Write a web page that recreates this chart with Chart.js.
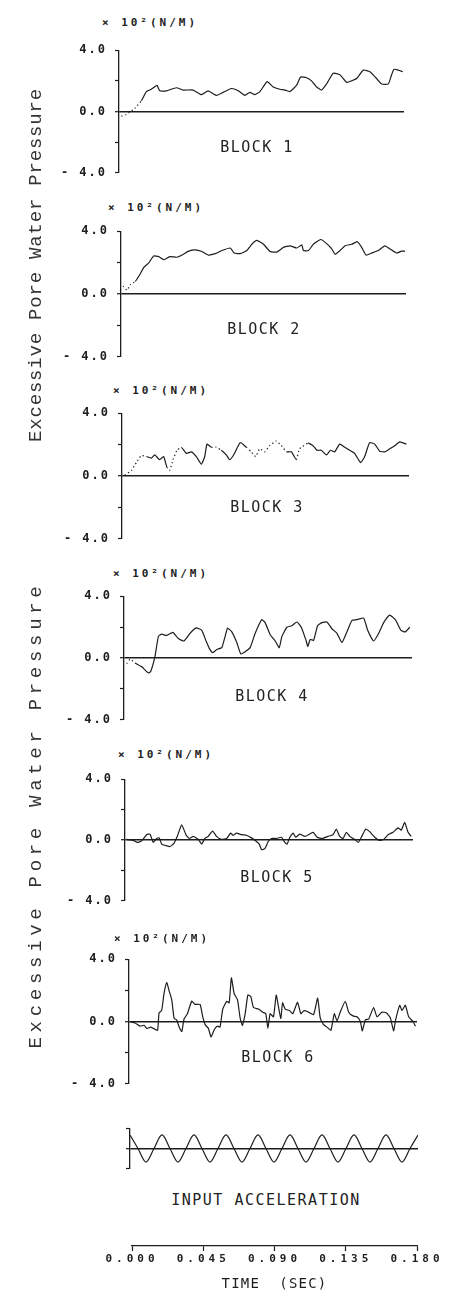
<!DOCTYPE html>
<html><head><meta charset="utf-8">
<script src="https://cdn.jsdelivr.net/npm/chart.js@4.4.0/dist/chart.umd.min.js"></script>
<style>
html,body{margin:0;padding:0;background:#fff;overflow:hidden;}
#page{position:relative;width:457px;height:1304px;overflow:hidden;background:#fff;}
.box{position:absolute;left:0;width:457px;}
.box canvas{display:block;}
.txt{position:absolute;white-space:pre;color:#222;font-family:"DejaVu Sans Mono",monospace;transform:translate(-50%,-50%);line-height:1;}
.unit{font-size:11px;font-weight:bold;letter-spacing:3px;}
.blk{font-size:15px;letter-spacing:1.5px;}
.ylab{font-family:"Liberation Mono","DejaVu Sans Mono",monospace;font-size:19px;color:#333;}
</style></head><body><div id="page"></div>
<script>
// ---------- data ----------
const block1Time = [0.0015,0.0046,0.0099,0.0141,0.0173,0.0204,0.0240,0.0257,0.0299,0.0363,0.0405,0.0468,0.0521,0.0563,0.0616,0.0658,0.0710,0.0753,0.0795,0.0826,0.0858,0.0890,0.0936,0.0974,0.1016,0.1048,0.1079,0.1121,0.1147,0.1185,0.1216,0.1248,0.1280,0.1311,0.1353,0.1395,0.1438,0.1469,0.1501,0.1543,0.1585,0.1623,0.1659,0.1701,0.1722,0.1737,0.1764,0.1792];
const block1Value = [-0.3,-0.2,0.2,0.7,1.3,1.45,1.7,1.35,1.35,1.55,1.4,1.4,1.1,1.35,1.05,1.25,1.5,1.35,1.05,1.25,1.1,1.3,1.95,1.6,1.45,1.4,1.3,1.7,2.25,2.2,2.0,1.6,1.4,1.8,2.5,2.4,1.9,2.0,2.15,2.7,2.6,2.2,1.8,1.8,2.4,2.75,2.7,2.6];

const block2Time = [0.0013,0.0038,0.0059,0.0090,0.0122,0.0143,0.0175,0.0206,0.0238,0.0273,0.0307,0.0353,0.0395,0.0427,0.0469,0.0511,0.0553,0.0595,0.0637,0.0690,0.0715,0.0753,0.0795,0.0826,0.0858,0.0900,0.0942,0.0984,0.1026,0.1068,0.1110,0.1142,0.1152,0.1184,0.1215,0.1262,0.1299,0.1331,0.1352,0.1384,0.1415,0.1457,0.1493,0.1520,0.1548,0.1583,0.1625,0.1667,0.1699,0.1741,0.1772,0.1794];
const block2Value = [0.5,0.24,0.6,0.8,1.29,1.68,1.98,2.42,2.38,2.18,2.38,2.34,2.53,2.73,2.81,2.71,2.48,2.57,2.77,2.93,2.61,2.57,2.77,3.17,3.41,3.17,2.71,2.67,2.97,3.07,2.93,3.13,2.77,2.77,3.17,3.47,3.21,2.87,2.53,2.77,3.07,3.17,3.33,2.97,2.48,2.61,2.77,3.07,2.87,2.61,2.73,2.73];

const block3Time = [0.0017,0.0059,0.0090,0.0121,0.0153,0.0184,0.0205,0.0236,0.0261,0.0282,0.0299,0.0320,0.0345,0.0372,0.0404,0.0435,0.0466,0.0498,0.0519,0.0533,0.0560,0.0592,0.0623,0.0654,0.0675,0.0700,0.0742,0.0780,0.0811,0.0838,0.0863,0.0895,0.0926,0.0968,0.0999,0.1031,0.1062,0.1093,0.1114,0.1167,0.1198,0.1223,0.1250,0.1282,0.1307,0.1334,0.1365,0.1397,0.1428,0.1459,0.1497,0.1522,0.1553,0.1585,0.1616,0.1648,0.1679,0.1710,0.1742,0.1783];
const block3Value = [0.06,0.35,0.85,1.3,1.24,1.14,1.34,1.04,1.24,0.55,0.35,1.04,1.64,1.83,1.44,1.54,1.24,0.75,1.24,2.03,1.83,1.83,1.64,1.34,1.04,1.34,2.13,1.83,1.54,1.24,1.73,1.54,1.93,2.23,1.93,1.54,1.54,1.04,1.73,2.09,1.93,1.64,1.64,1.34,1.64,1.54,2.03,1.83,1.64,1.44,0.85,1.24,2.13,2.03,1.58,1.54,1.73,1.93,2.17,2.03];

const block4Time = [0.0017,0.0038,0.0069,0.0111,0.0152,0.0167,0.0194,0.0215,0.0236,0.0267,0.0305,0.0340,0.0375,0.0413,0.0451,0.0486,0.0513,0.0534,0.0555,0.0580,0.0611,0.0632,0.0647,0.0674,0.0705,0.0730,0.0757,0.0788,0.0820,0.0861,0.0882,0.0914,0.0945,0.0970,0.0987,0.1018,0.1049,0.1081,0.1108,0.1139,0.1149,0.1164,0.1185,0.1210,0.1237,0.1268,0.1300,0.1331,0.1362,0.1393,0.1425,0.1456,0.1498,0.1523,0.1560,0.1592,0.1623,0.1660,0.1696,0.1731,0.1758,0.1786];
const block4Value = [-0.37,-0.08,-0.32,-0.57,-0.97,-0.87,0.12,1.4,1.54,1.46,1.66,1.26,1.1,1.6,1.95,1.79,1.1,0.61,0.35,0.55,0.67,1.4,1.93,1.69,1.0,0.26,0.41,0.67,1.6,2.48,2.29,1.5,1.1,0.67,1.4,1.99,2.09,2.33,1.99,1.1,0.75,1.2,1.14,2.09,2.29,2.33,1.89,1.6,1.0,1.69,2.44,2.48,2.58,1.79,1.1,1.6,2.29,2.78,2.48,1.79,1.69,1.99];

const block5Time = [0.0010,0.0052,0.0077,0.0104,0.0135,0.0156,0.0177,0.0198,0.0214,0.0229,0.0256,0.0281,0.0306,0.0327,0.0354,0.0381,0.0402,0.0427,0.0458,0.0479,0.0499,0.0520,0.0547,0.0572,0.0603,0.0635,0.0660,0.0676,0.0697,0.0728,0.0759,0.0791,0.0818,0.0839,0.0853,0.0874,0.0895,0.0916,0.0947,0.0978,0.0999,0.1013,0.1030,0.1051,0.1067,0.1092,0.1124,0.1155,0.1176,0.1201,0.1234,0.1269,0.1300,0.1321,0.1342,0.1363,0.1384,0.1405,0.1436,0.1457,0.1477,0.1504,0.1529,0.1561,0.1588,0.1617,0.1644,0.1675,0.1706,0.1727,0.1748,0.1769,0.1789];
const block5Value = [0.04,-0.02,-0.16,-0.06,0.35,0.39,-0.16,0.1,0.14,-0.27,-0.37,-0.43,-0.22,0.24,1.0,0.35,0.1,0.24,0.04,-0.27,0.1,0.24,0.59,0.24,0.04,0.1,0.45,0.31,0.45,0.35,0.31,0.14,-0.06,-0.27,-0.63,-0.57,-0.1,0.1,0.1,0.18,-0.16,-0.27,0.18,0.45,0.18,0.39,0.24,0.39,0.51,0.18,0.1,0.24,0.35,0.71,0.24,0.1,0.51,0.24,0.04,-0.16,0.18,0.71,0.55,0.18,-0.02,0.04,0.35,0.51,0.8,0.65,1.16,0.51,0.24];

const block6Time = [0.0006,0.0038,0.0069,0.0094,0.0111,0.0136,0.0163,0.0179,0.0188,0.0204,0.0219,0.0236,0.0250,0.0267,0.0282,0.0298,0.0315,0.0330,0.0344,0.0365,0.0392,0.0413,0.0444,0.0461,0.0476,0.0496,0.0513,0.0534,0.0553,0.0569,0.0586,0.0611,0.0626,0.0640,0.0657,0.0678,0.0695,0.0709,0.0726,0.0743,0.0761,0.0778,0.0809,0.0836,0.0855,0.0868,0.0882,0.0903,0.0920,0.0935,0.0949,0.0960,0.0976,0.1003,0.1024,0.1053,0.1074,0.1095,0.1122,0.1154,0.1179,0.1195,0.1216,0.1237,0.1262,0.1283,0.1300,0.1320,0.1352,0.1373,0.1400,0.1425,0.1446,0.1458,0.1477,0.1498,0.1529,0.1550,0.1581,0.1608,0.1633,0.1654,0.1665,0.1692,0.1706,0.1727,0.1748,0.1775,0.1790];
const block6Value = [0,-0.1,-0.3,-0.24,-0.44,-0.36,-0.5,-0.56,0.56,0.7,1.8,2.5,2.0,1.4,0.2,0.1,-0.4,-0.64,0.16,0.5,1.3,1.1,1.1,0.3,-0.2,-0.44,-1.0,-0.5,-0.3,-0.36,0.8,1.3,1.2,2.8,1.8,1.4,0.2,-0.24,0.5,1.7,1.6,0.9,0.8,0.6,0.5,-0.44,0.5,0.3,1.7,0.9,0.2,1.2,0.8,0.7,0.5,1.24,0.5,0.7,0.6,0.44,1.5,0.24,-0.2,-0.36,-0.56,0.5,0.04,0.6,1.3,0.6,0.36,0.3,0,-0.6,0.1,0.16,0.9,0.3,0.6,0.56,0.24,-0.6,0.04,1.04,0.7,1.04,0.3,0,-0.3];

const accelTime = [0,0.005,0.01,0.015,0.02,0.025,0.03,0.035,0.04,0.045,0.05,0.055,0.06,0.065,0.07,0.075,0.08,0.085,0.09,0.095,0.1,0.105,0.11,0.115,0.12,0.125,0.13,0.135,0.14,0.145,0.15,0.155,0.16,0.165,0.17,0.175,0.18];
const accelValue = [1,0,-1,0,1,0,-1,0,1,0,-1,0,1,0,-1,0,1,0,-1,0,1,0,-1,0,1,0,-1,0,1,0,-1,0,1,0,-1,0,1];

const yTicks = [-4, -2, 0, 2, 4];
const yTickLabels = ['- 4.0', '', '0.0', '', '4.0'];
const accelTicks = [-1.5, 0, 1.5];
const timeTicks = [0, 0.045, 0.09, 0.135, 0.18];
const timeTickLabels = ['0.000', '0.045', '0.090', '0.135', '0.180'];
const blockNames = ['BLOCK 1', 'BLOCK 2', 'BLOCK 3', 'BLOCK 4', 'BLOCK 5', 'BLOCK 6'];
const unitLabel = '× 10²(N/M)';
const yTitle = 'Excessive Pore Water Pressure';
const accelTitle = 'INPUT ACCELERATION';
const timeTitle = 'TIME  (SEC)';

// ---------- layout / style ----------
const INK = '#1d1d1d';
const MONO = '"DejaVu Sans Mono", monospace';
const W = 457;
const panels = [
  {time: block1Time, value: block1Value, left:119, right:404, top:45,  bottom:178, dots:[[0,0.013]], unit:[150,22],  name:[257,147]},
  {time: block2Time, value: block2Value, left:121, right:406, top:226, bottom:362, dots:[[0,0.009]], unit:[156,207], name:[264,329]},
  {time: block3Time, value: block3Value, left:122, right:409, top:408, bottom:544, dots:[[0,0.013],[0.027,0.036],[0.055,0.060],[0.076,0.100],[0.107,0.113]], unit:[161,390], name:[267,507]},
  {time: block4Time, value: block4Value, left:124, right:412, top:591, bottom:725, dots:[[0,0.005]], unit:[161,573], name:[272,696]},
  {time: block5Time, value: block5Value, left:125, right:413, top:774, bottom:906, dots:[], unit:[166,754], name:[277,877]},
  {time: block6Time, value: block6Value, left:129, right:417, top:954, bottom:1089, dots:[], unit:[162,938], name:[278,1057]}
];

const spacingPlugin = {
  id: 'spacing',
  beforeDraw(chart, a, o){ chart.ctx.letterSpacing = (o.title || 0) + 'px'; },
  afterDatasetsDraw(chart, a, o){ chart.ctx.letterSpacing = (o.ticks || 0) + 'px'; },
  afterDraw(chart){ chart.ctx.letterSpacing = '0px'; }
};
Chart.register(spacingPlugin);

const page = document.getElementById('page');
function addText(text, cls, x, y, extra){
  const d = document.createElement('div');
  d.className = 'txt ' + cls;
  d.textContent = text;
  d.style.left = x + 'px'; d.style.top = y + 'px';
  if (extra) d.style.transform = extra;
  page.appendChild(d);
  return d;
}
function addCanvas(top, height){
  const div = document.createElement('div');
  div.className = 'box';
  div.style.top = top + 'px'; div.style.height = height + 'px';
  const cv = document.createElement('canvas');
  cv.width = W; cv.height = height;
  cv.style.width = W + 'px'; cv.style.height = height + 'px';
  div.appendChild(cv); page.appendChild(div);
  return cv;
}
const inRanges = (x, ranges) => ranges.some(r => x >= r[0] && x < r[1]);

function yScale(left, min, max, ticks, labels){
  return {
    type: 'linear', min, max,
    afterFit: s => { s.width = left; },
    afterBuildTicks: s => { s.ticks = ticks.map(v => ({value: v})); },
    ticks: {
      callback: v => labels[ticks.indexOf(v)],
      padding: 8, color: INK, z: 1, autoSkip: false,
      font: {family: MONO, size: 12, weight: 'bold'}
    },
    grid: {
      color: c => (c.tick && c.tick.value === 0) ? INK : 'rgba(0,0,0,0)',
      lineWidth: c => (c.tick && c.tick.value === 0) ? 1.4 : 1,
      tickColor: INK, tickLength: 4, tickWidth: 1.2
    },
    border: {display: true, color: INK, width: 1.3}
  };
}

const PAD = 10;
panels.forEach((p, i) => {
  const h = p.bottom - p.top + 2 * PAD;
  const cv = addCanvas(p.top - PAD, h);
  new Chart(cv, {
    type: 'line',
    data: {datasets: [{
      data: p.time.map((t, k) => ({x: t, y: p.value[k]})),
      borderColor: INK, borderWidth: 1.2, pointRadius: 0, tension: 0.15, fill: false,
      segment: {borderDash: ctx => inRanges(ctx.p0.parsed.x, p.dots) ? [1.3, 2.6] : undefined}
    }]},
    options: {
      responsive: false, animation: false,
      layout: {padding: {left: 0, right: W - p.right, top: PAD, bottom: PAD}},
      plugins: {legend: {display: false}, tooltip: {enabled: false}, spacing: {ticks: 2}},
      scales: {
        x: {type: 'linear', min: 0, max: 0.18, display: false},
        y: yScale(p.left, -4, 4, yTicks, yTickLabels)
      }
    }
  });
  addText(unitLabel, 'unit', p.unit[0], p.unit[1]);
  addText(blockNames[i], 'blk', p.name[0], p.name[1]);
});

// input acceleration panel
(function(){
  const left = 130, right = 418, top = 1123, bottom = 1174;
  const cv = addCanvas(top - PAD, bottom - top + 2 * PAD);
  new Chart(cv, {
    type: 'line',
    data: {datasets: [{
      data: accelTime.map((t, k) => ({x: t, y: accelValue[k]})),
      borderColor: INK, borderWidth: 1.2, pointRadius: 0, cubicInterpolationMode: 'monotone', fill: false
    }]},
    options: {
      responsive: false, animation: false,
      layout: {padding: {left: 0, right: W - right, top: PAD, bottom: PAD}},
      plugins: {legend: {display: false}, tooltip: {enabled: false}},
      scales: {
        x: {type: 'linear', min: 0, max: 0.18, display: false},
        y: yScale(left, -1.5, 1.5, accelTicks, ['', '', ''])
      }
    }
  });
  addText(accelTitle, 'blk', 266, 1200);
})();

// time axis
(function(){
  const left = 132, right = 417, top = 1236, axisH = 58;
  const h = 1304 - top;
  const cv = addCanvas(top, h);
  new Chart(cv, {
    type: 'line',
    data: {datasets: []},
    options: {
      responsive: false, animation: false,
      layout: {padding: {left: left, right: W - right, top: 0, bottom: 0}},
      plugins: {legend: {display: false}, tooltip: {enabled: false}, spacing: {title: 1.2, ticks: 4}},
      scales: {
        x: {
          type: 'linear', position: 'bottom', min: 0, max: 0.18,
          afterFit: s => { s.height = axisH; },
          afterBuildTicks: s => { s.ticks = timeTicks.map(v => ({value: v})); },
          ticks: {
            callback: v => timeTickLabels[timeTicks.indexOf(v)],
            padding: 2, color: INK, z: 1, autoSkip: false, maxRotation: 0,
            font: {family: MONO, size: 11, weight: 'bold'}
          },
          grid: {drawOnChartArea: false, tickColor: INK, tickLength: 5, tickWidth: 1.2},
          border: {display: true, color: INK, width: 1.3},
          title: {display: true, text: timeTitle, color: INK, font: {family: MONO, size: 14}, padding: {top: 0, bottom: 11}}
        },
        y: {display: false, min: 0, max: 1}
      }
    }
  });
})();

// rotated y-axis titles
const t1 = addText(yTitle, 'ylab', 36, 265, 'translate(-50%,-50%) rotate(-90deg)');
t1.style.letterSpacing = '0.8px';
const t2 = addText(yTitle, 'ylab', 36, 815, 'translate(-50%,-50%) rotate(-90deg)');
t2.style.letterSpacing = '4.7px';
</script>
</body></html>
